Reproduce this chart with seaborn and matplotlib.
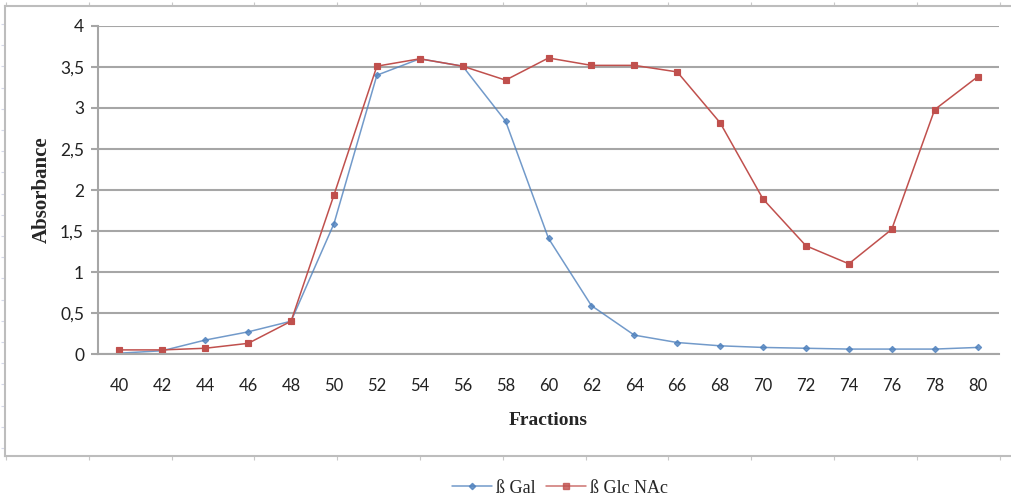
import matplotlib
matplotlib.use("Agg")
import matplotlib.pyplot as plt
import numpy as np
import pandas as pd
import seaborn as sns
from matplotlib.lines import Line2D

fractions = list(range(40, 82, 2))
beta_gal = [0.01, 0.04, 0.17, 0.27, 0.40, 1.59, 3.40, 3.60, 3.51, 2.84, 1.41,
            0.59, 0.23, 0.14, 0.10, 0.08, 0.07, 0.06, 0.06, 0.06, 0.08]
beta_glcnac = [0.05, 0.05, 0.07, 0.13, 0.40, 1.94, 3.51, 3.60, 3.51, 3.34, 3.61,
               3.52, 3.52, 3.44, 2.82, 1.89, 1.32, 1.10, 1.52, 2.98, 3.38]
series_names = ["ß Gal", "ß Glc NAc"]
y_ticks = [0, 0.5, 1, 1.5, 2, 2.5, 3, 3.5, 4]
y_tick_labels = ["0", "0,5", "1", "1,5", "2", "2,5", "3", "3,5", "4"]

colors = ["#4F81BD", "#C0504D"]

df = pd.DataFrame({
    "Fractions": [str(f) for f in fractions] * 2,
    "Absorbance": beta_gal + beta_glcnac,
    "enzyme": [series_names[0]] * len(fractions) + [series_names[1]] * len(fractions),
})

sns.set_style("white")
W, H = 1011, 498
fig = plt.figure(figsize=(W / 100, H / 100), dpi=100)

# outer spreadsheet-like frame
frame = fig.add_axes([5 / W, 42 / H, 1006 / W, 450 / H], zorder=0)
frame.set_facecolor("none")
frame.set_xlim(0, 1006)
frame.set_ylim(0, 450)
frame.set_xticks(np.arange(1, 1006, 82.8))
frame.set_yticks(np.arange(8, 450, 21.2))
frame.tick_params(axis="x", which="both", top=True, bottom=True, length=3,
                  color="#c8c8c8", labelbottom=False, labeltop=False, direction="out")
frame.tick_params(axis="y", left=True, length=3, color="#d4d8e8", labelleft=False,
                  direction="out")
for side, sp in frame.spines.items():
    sp.set_color("#bdbdbd")
    sp.set_linewidth(1.5)
frame.spines["right"].set_visible(False)

ax = fig.add_axes([98 / W, 144 / H, 901 / W, 328 / H], zorder=1)
ax.set_facecolor("none")

sns.pointplot(data=df, x="Fractions", y="Absorbance", hue="enzyme",
              palette=colors, markers=["D", "s"],
              linestyles=["-", "-"], markersize=4, linewidth=1.1,
              ax=ax, legend=False)
for line, ms in zip(ax.lines, [3.2, 5.5]):
    line.set_markersize(ms)
    line.set_alpha(0.8)

ax.set_xlim(-0.5, len(fractions) - 0.5)
ax.set_ylim(0, 4)
ax.set_yticks(y_ticks)
ax.set_yticklabels(y_tick_labels)
ax.yaxis.grid(True, color="#a6a6a6", linewidth=1.5)
ax.set_axisbelow(True)
for s in ["top", "right"]:
    ax.spines[s].set_visible(False)
for s in ["left", "bottom"]:
    ax.spines[s].set_color("#a6a6a6")
    ax.spines[s].set_linewidth(1.5)
ax.tick_params(axis="y", left=True, length=5, color="#a6a6a6", width=1.5,
               labelsize=12.5, pad=5)
ax.tick_params(axis="x", bottom=False, labelsize=12, pad=14)
for lab in ax.get_xticklabels() + ax.get_yticklabels():
    lab.set_fontfamily("Lato")
    lab.set_color("#222222")

ax.set_xlabel("Fractions", fontfamily="Liberation Serif", fontweight="bold",
              fontsize=14, labelpad=13)
ax.set_ylabel("Absorbance", fontfamily="Liberation Serif", fontweight="bold",
              fontsize=15, labelpad=6)

handles = [Line2D([], [], color=colors[0], marker="D", markersize=3.2, linewidth=1.1, alpha=0.8),
           Line2D([], [], color=colors[1], marker="s", markersize=5, linewidth=1.1, alpha=0.8)]
fig.legend(handles, series_names, loc="center", bbox_to_anchor=(560 / W, 10 / H),
           ncol=2, frameon=False, prop={"family": "Liberation Serif", "size": 13},
           handlelength=2.2, handletextpad=0.2, columnspacing=0.6)

fig.savefig("out.png", dpi=100)
